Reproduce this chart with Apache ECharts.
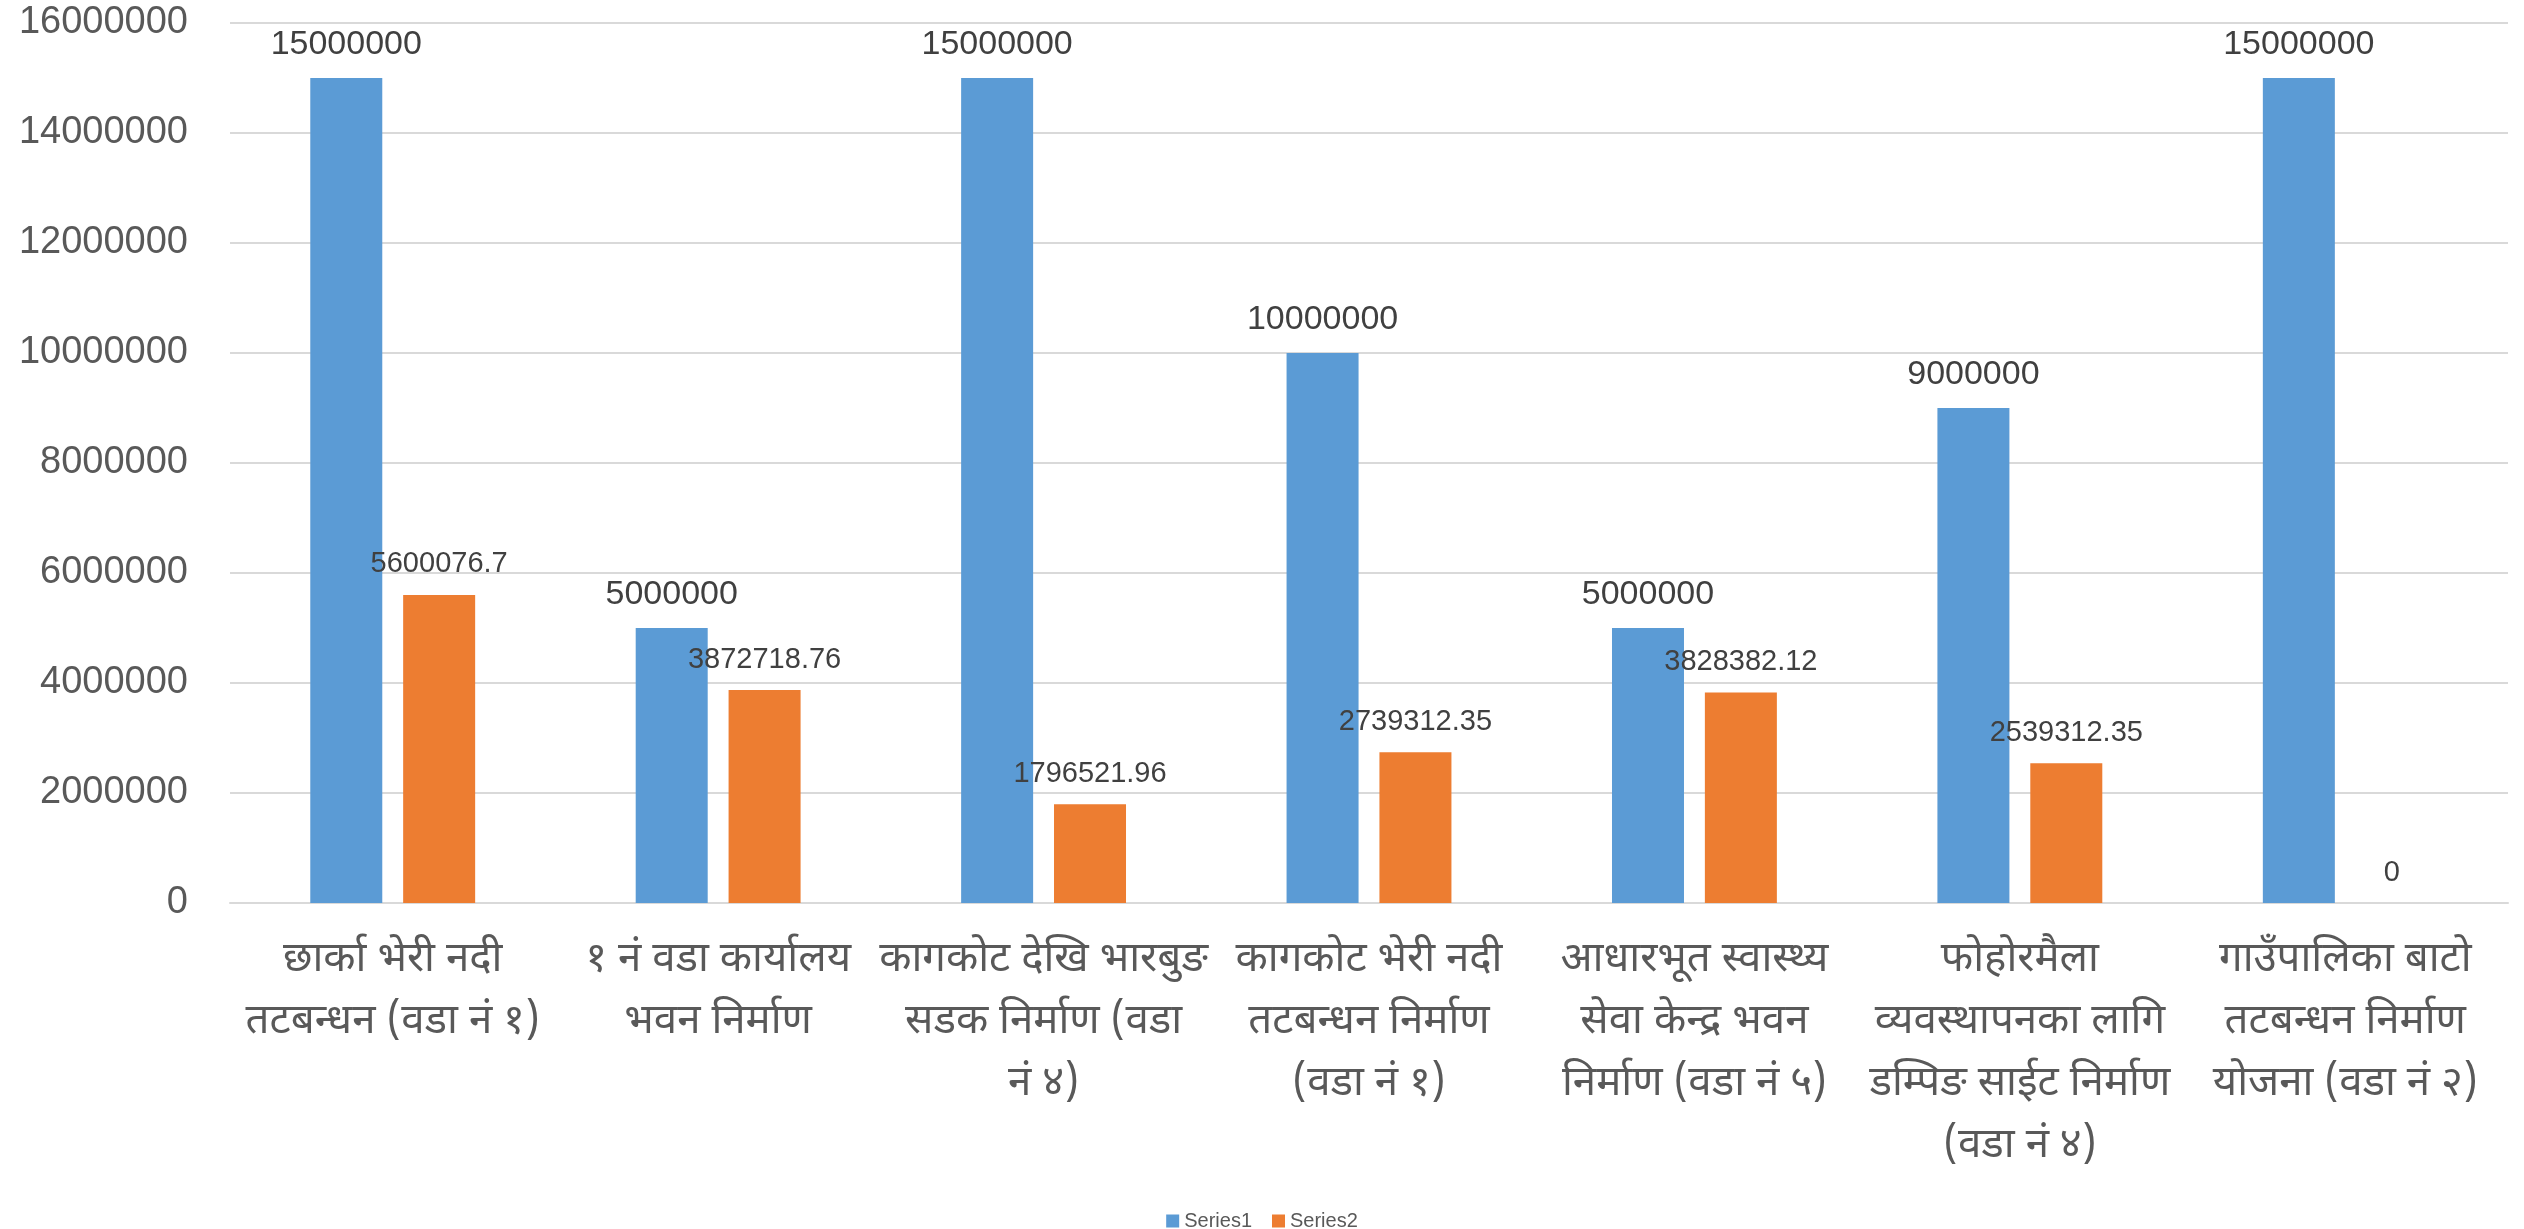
<!DOCTYPE html>
<html>
<head>
<meta charset="utf-8">
<script src="https://cdn.jsdelivr.net/npm/echarts@6/dist/echarts.min.js"></script>
<style>
html,body{margin:0;padding:0;background:#fff;}
#chart{width:2524px;height:1229px;}
</style>
</head>
<body>
<div id="chart"></div>
<script>
var categories = [
  "छार्का भेरी नदी\nतटबन्धन (वडा नं १)",
  "१ नं वडा कार्यालय\nभवन निर्माण",
  "कागकोट देखि भारबुङ\nसडक निर्माण (वडा\nनं ४)",
  "कागकोट भेरी नदी\nतटबन्धन निर्माण\n(वडा नं १)",
  "आधारभूत स्वास्थ्य\nसेवा केन्द्र भवन\nनिर्माण (वडा नं ५)",
  "फोहोरमैला\nव्यवस्थापनका लागि\nडम्पिङ साईट निर्माण\n(वडा नं ४)",
  "गाउँपालिका बाटो\nतटबन्धन निर्माण\nयोजना (वडा नं २)"
];
var seriesNames = ["Series1", "Series2"];
var series1 = [15000000, 5000000, 15000000, 10000000, 5000000, 9000000, 15000000];
var series2 = [5600076.7, 3872718.76, 1796521.96, 2739312.35, 3828382.12, 2539312.35, 0];
var yMin = 0, yMax = 16000000, yStep = 2000000;

var numFont = "'Liberation Sans', Arial, sans-serif";
var devFont = "'Noto Sans Devanagari', 'Nirmala UI', Mangal, 'Liberation Sans', sans-serif";

var chart = echarts.init(document.getElementById('chart'), null, {renderer: 'canvas'});
chart.setOption({
  animation: false,
  backgroundColor: '#ffffff',
  color: ['#5B9BD5', '#ED7D31'],
  grid: {left: 230, right: 16, top: 23, bottom: 326, containLabel: false},
  legend: {
    data: seriesNames,
    left: 'center',
    top: 1206,
    itemWidth: 13,
    itemHeight: 13,
    itemGap: 20,
    icon: 'rect',
    textStyle: {fontFamily: numFont, fontSize: 20, color: '#595959'}
  },
  xAxis: {
    type: 'category',
    data: categories,
    axisTick: {show: false},
    axisLine: {lineStyle: {color: '#d9d9d9', width: 2}},
    axisLabel: {
      interval: 0,
      margin: 29,
      fontFamily: devFont,
      fontSize: 42,
      lineHeight: 62,
      color: '#595959',
      align: 'center'
    }
  },
  yAxis: {
    type: 'value',
    min: yMin,
    max: yMax,
    interval: yStep,
    axisLine: {show: false},
    axisTick: {show: false},
    splitLine: {lineStyle: {color: '#d9d9d9', width: 2}},
    axisLabel: {
      margin: 42,
      fontFamily: numFont,
      fontSize: 38,
      color: '#595959',
      formatter: function (v) { return String(v); }
    }
  },
  series: [
    {
      name: seriesNames[0],
      type: 'bar',
      data: series1,
      barWidth: 72,
      barGap: '29%',
      label: {
        show: true,
        position: 'top',
        distance: 16,
        fontFamily: numFont,
        fontSize: 34,
        lineHeight: 34,
        color: '#404040'
      }
    },
    {
      name: seriesNames[1],
      type: 'bar',
      data: series2,
      barWidth: 72,
      barGap: '29%',
      label: {
        show: true,
        position: 'top',
        distance: 16,
        fontFamily: numFont,
        fontSize: 29,
        lineHeight: 29,
        color: '#404040'
      }
    }
  ]
});
</script>
</body>
</html>
